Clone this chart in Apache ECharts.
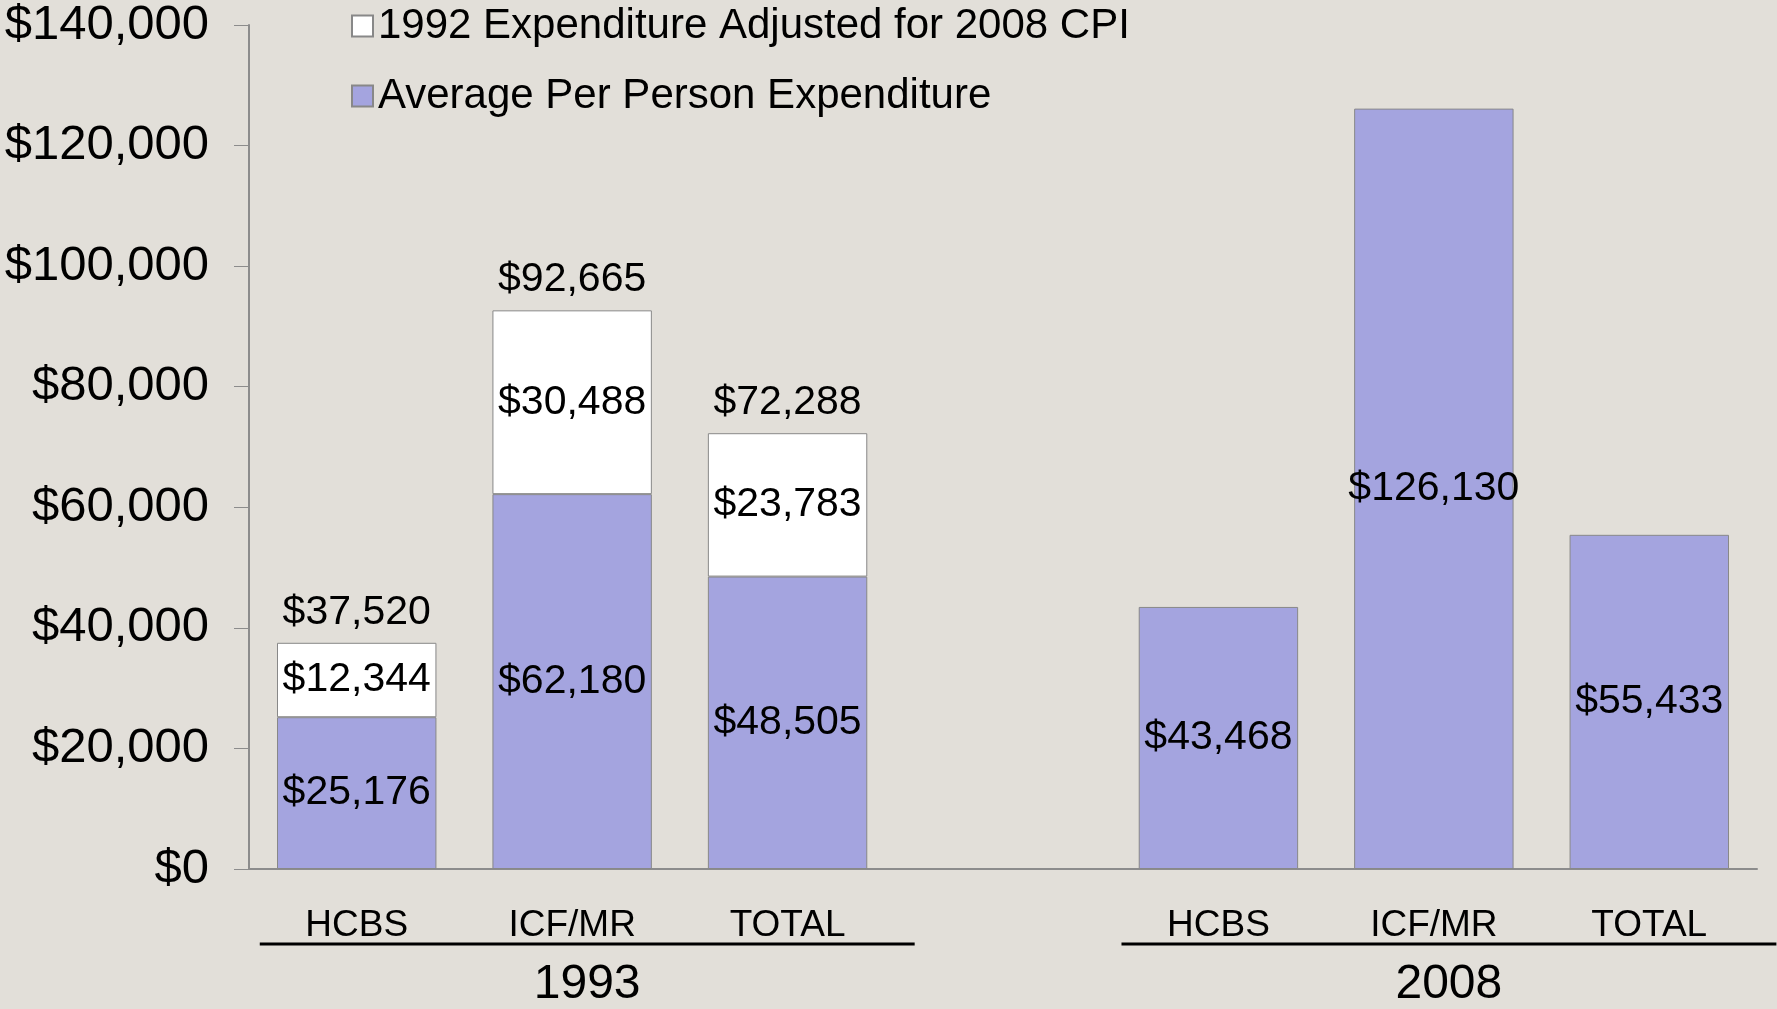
<!DOCTYPE html>
<html>
<head>
<meta charset="utf-8">
<script src="https://cdn.jsdelivr.net/npm/echarts@6/dist/echarts.min.js"></script>
<style>
  html, body { margin: 0; padding: 0; background: #e2dfd9; }
  #main { width: 1777px; height: 1009px; }
</style>
</head>
<body>
<div id="main"></div>
<script>
// categories, two groups with an empty slot between them
const categories = ['HCBS', 'ICF/MR', 'TOTAL', '', 'HCBS', 'ICF/MR', 'TOTAL']
const yearLabels = ['', '1993', '', '', '', '2008', '']
const groupSpans = [[0, 2], [4, 6]]

const perPerson = [25176, 62180, 48505, null, 43468, 126130, 55433]
const adjustedExtra = [12344, 30488, 23783, null, null, null, null]
const adjustedTotal = [37520, 92665, 72288, null, null, null, null]

const yMin = 0, yMax = 140000, yStep = 20000

const font = 'Liberation Sans, Arial, sans-serif'
const money = v => '$' + Number(v).toLocaleString('en-US')

const chart = echarts.init(document.getElementById('main'))

chart.setOption({
  backgroundColor: '#e2dfd9',
  animation: false,
  grid: { left: 249, right: 20, top: 25, bottom: 137 },
  legend: {
    orient: 'vertical',
    left: 346,
    top: -2,
    icon: 'rect',
    itemWidth: 21,
    itemHeight: 21,
    itemGap: 24,
    data: ['1992 Expenditure Adjusted for 2008 CPI', 'Average Per Person Expenditure'],
    textStyle: { fontFamily: font, fontSize: 42, color: '#000', lineHeight: 46 }
  },
  xAxis: [{
    type: 'category',
    data: categories,
    axisLine: { lineStyle: { color: '#8c8c8c', width: 2 } },
    axisTick: { length: 12, lineStyle: { color: '#8c8c8c' } },
    axisLabel: { margin: 38, fontFamily: font, fontSize: 37, color: '#000', interval: 0 }
  }, {
    type: 'category',
    data: yearLabels,
    position: 'bottom',
    axisLine: { show: false },
    axisTick: { show: false },
    axisLabel: { margin: 92, fontFamily: font, fontSize: 48, color: '#000', interval: 0, padding: [0, 0, 0, 30] }
  }],
  yAxis: {
    type: 'value',
    min: yMin,
    max: yMax,
    interval: yStep,
    splitLine: { show: false },
    axisLine: { show: true, lineStyle: { color: '#8c8c8c', width: 2 } },
    axisTick: { show: true, length: 15, lineStyle: { color: '#8c8c8c' } },
    axisLabel: { margin: 40, fontFamily: font, fontSize: 49, color: '#000', formatter: money }
  },
  series: [{
    name: 'Average Per Person Expenditure',
    type: 'bar',
    stack: 'spend',
    barWidth: '74%',
    data: perPerson,
    itemStyle: { color: '#a4a4df', borderColor: '#888', borderWidth: 1 },
    label: { show: true, position: 'inside', fontFamily: font, fontSize: 41, color: '#000', formatter: p => money(p.value) }
  }, {
    name: '1992 Expenditure Adjusted for 2008 CPI',
    type: 'bar',
    stack: 'spend',
    barWidth: '74%',
    data: adjustedExtra,
    itemStyle: { color: '#ffffff', borderColor: '#888', borderWidth: 1 },
    label: { show: true, position: 'inside', fontFamily: font, fontSize: 41, color: '#000', formatter: p => money(p.value) }
  }, {
    name: 'total',
    type: 'bar',
    barWidth: '74%',
    barGap: '-100%',
    z: 1,
    data: adjustedTotal,
    itemStyle: { color: 'rgba(0,0,0,0)' },
    label: { show: true, position: 'top', distance: 10, fontFamily: font, fontSize: 41, color: '#000', formatter: p => money(p.value) }
  }]
})

// group underlines below the category labels
const c0 = chart.convertToPixel({ xAxisIndex: 0 }, 0)
const band = chart.convertToPixel({ xAxisIndex: 0 }, 1) - c0
chart.setOption({
  graphic: groupSpans.map(([a, b]) => ({
    type: 'line',
    shape: {
      x1: chart.convertToPixel({ xAxisIndex: 0 }, a) - 0.45 * band,
      y1: 944,
      x2: chart.convertToPixel({ xAxisIndex: 0 }, b) + 0.59 * band,
      y2: 944
    },
    style: { stroke: '#000', lineWidth: 3 }
  }))
})
</script>
</body>
</html>
